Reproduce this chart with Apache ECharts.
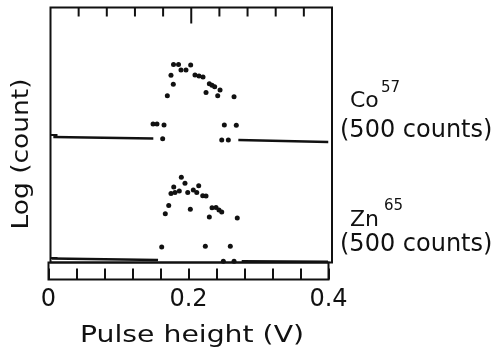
<!DOCTYPE html>
<html>
<head>
<meta charset="utf-8">
<script src="https://cdn.jsdelivr.net/npm/echarts@6/dist/echarts.min.js"></script>
<style>
html,body{margin:0;padding:0;background:#fff;}
#chart{width:498px;height:356px;}
</style>
</head>
<body>
<div id="chart"></div>
<script>
// x: pulse height (V), y: log(count) in arbitrary units (0..10 over the frame)
const xTickLabels = ['0', '0.2', '0.4'];
const yBaselineTicks = [0.18, 5.0];
// tick marks along the top edge of the frame (V)
const topMinorTicks = [0.04, 0.08, 0.12, 0.16, 0.24, 0.28, 0.32, 0.36];
const topMajorTicks = [0.2];
const FRAME_TOP = 10;

// Co-57 spectrum (500 counts): channels with counts
const coPeak = [
  [0.1748, 7.76], [0.1819, 7.76], [0.1992, 7.75], [0.1854, 7.55], [0.1925, 7.55],
  [0.1712, 7.34], [0.2053, 7.35], [0.2110, 7.31], [0.2167, 7.27], [0.1745, 6.99],
  [0.1660, 6.54], [0.2257, 7.01], [0.2295, 6.95], [0.2333, 6.89], [0.2409, 6.76],
  [0.2210, 6.67], [0.2376, 6.54], [0.2608, 6.50], [0.1457, 5.43], [0.1513, 5.43],
  [0.1613, 5.39], [0.2470, 5.39], [0.2640, 5.38], [0.1594, 4.85], [0.2433, 4.80],
  [0.2527, 4.80]
];
// Co-57 zero-count baseline (start, end)
const coBaseLeft = [[0.0040, 4.92], [0.1461, 4.86]];
const coBaseRight = [[0.2669, 4.80], [0.3947, 4.73]];

// Zn-65 spectrum (500 counts)
const znPeak = [
  [0.1859, 3.34], [0.1911, 3.11], [0.1751, 2.96], [0.2106, 3.01], [0.1712, 2.71],
  [0.1769, 2.75], [0.1830, 2.80], [0.1950, 2.75], [0.2029, 2.84], [0.2078, 2.75],
  [0.2163, 2.62], [0.2210, 2.61], [0.1680, 2.24], [0.1631, 1.91], [0.1987, 2.09],
  [0.2295, 2.15], [0.2352, 2.16], [0.2394, 2.06], [0.2433, 1.98], [0.2257, 1.78],
  [0.2654, 1.75], [0.1580, 0.61], [0.2200, 0.64], [0.2555, 0.64], [0.2456, 0.05],
  [0.2608, 0.05]
];
const znBaseLeft = [[0.0017, 0.16], [0.1528, 0.10]];
const znBaseRight = [[0.2717, 0.05], [0.3943, 0.03]];

const FONT = 'DejaVu Sans';
const INK = '#111';

const chart = echarts.init(document.getElementById('chart'), null, {renderer: 'canvas'});

function baseline(data) {
  return {
    type: 'line', xAxisIndex: 0, yAxisIndex: 0, data: data,
    showSymbol: false, symbol: 'none', silent: true, animation: false,
    lineStyle: {color: INK, width: 2.5, opacity: 1}
  };
}
function peak(data) {
  return {
    type: 'scatter', xAxisIndex: 0, yAxisIndex: 0, data: data,
    symbol: 'circle', symbolSize: 5, itemStyle: {color: INK, opacity: 1}, animation: false
  };
}
function topTicks(values, len) {
  return {
    type: 'scatter', xAxisIndex: 0, yAxisIndex: 0, silent: true, clip: false,
    zlevel: 1, z: 100,
    data: values.map(function (v) { return [v, FRAME_TOP]; }),
    symbol: 'rect', symbolSize: [2, len], symbolOffset: [0, len / 2],
    itemStyle: {color: INK, opacity: 1}, animation: false
  };
}

function txt(text, x, y, size, opts) {
  opts = opts || {};
  return {
    type: 'text', x: x, y: y,
    rotation: opts.rotation || 0,
    scaleX: opts.scaleX || 1,
    style: {
      text: text, fill: INK,
      font: size + 'px "' + FONT + '"',
      fontSize: size, fontFamily: FONT,
      align: opts.align || 'left', textAlign: opts.align || 'left',
      verticalAlign: 'middle', textVerticalAlign: 'middle'
    }
  };
}

const option = {
  backgroundColor: '#fff',
  animation: false,
  grid: [
    // main plotting frame
    {left: 50.5, top: 7.5, width: 281.5, height: 255, show: true,
     borderColor: INK, borderWidth: 2, backgroundColor: 'transparent'},
    // bottom scale strip
    {left: 48.5, top: 262.5, width: 280, height: 17, show: true,
     borderColor: INK, borderWidth: 2, backgroundColor: 'transparent'}
  ],
  xAxis: [
    {type: 'value', gridIndex: 0, position: 'bottom', min: 0, max: 0.4, interval: 0.2,
     axisLine: {show: false, onZero: false}, axisTick: {show: false},
     axisLabel: {show: false}, splitLine: {show: false}},
    {type: 'value', gridIndex: 1, position: 'bottom', min: 0, max: 0.4, interval: 0.2,
     axisLine: {show: false, onZero: false},
     axisTick: {show: true, inside: true, length: 11, lineStyle: {color: INK, width: 2}},
     minorTick: {show: true, splitNumber: 5, length: 11, lineStyle: {color: INK, width: 2}},
     axisLabel: {show: true, color: INK, fontFamily: FONT, fontSize: 24, margin: 8,
       formatter: function (v) {
         const i = Math.round(v / 0.2);
         return xTickLabels[i] !== undefined ? xTickLabels[i] : '';
       }},
     splitLine: {show: false}}
  ],
  yAxis: [
    {type: 'value', gridIndex: 0, min: 0, max: FRAME_TOP,
     axisLine: {show: false, onZero: false}, axisLabel: {show: false}, splitLine: {show: false},
     axisTick: {show: true, inside: true, length: 7, customValues: yBaselineTicks,
       lineStyle: {color: INK, width: 2}}},
    {type: 'value', gridIndex: 1, min: 0, max: 1, show: false}
  ],
  series: [
    baseline(coBaseLeft), baseline(coBaseRight), peak(coPeak),
    baseline(znBaseLeft), baseline(znBaseRight), peak(znPeak),
    topTicks(topMinorTicks, 9), topTicks(topMajorTicks, 16)
  ],
  graphic: [
    txt('Log (count)', 22, 154, 23, {rotation: Math.PI / 2, align: 'center', scaleX: 1.15}),
    txt('Pulse height (V)', 192, 336, 23, {align: 'center', scaleX: 1.23}),
    txt('Co', 350, 101, 22),
    txt('57', 381, 88, 15),
    txt('(500 counts)', 340, 131, 24),
    txt('Zn', 350, 220, 22),
    txt('65', 384, 206, 15),
    txt('(500 counts)', 340, 245, 24)
  ]
};
chart.setOption(option);
</script>
</body>
</html>
